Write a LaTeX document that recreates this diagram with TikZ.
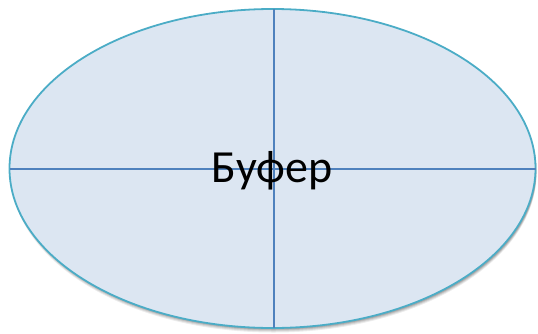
\documentclass[tikz,border=0pt]{standalone}
\usepackage{fontspec}
\setmainfont{Carlito}
\definecolor{fillc}{HTML}{DCE6F2}
\definecolor{edgec}{HTML}{4BACC6}
\definecolor{linec}{HTML}{4F81BD}
\begin{document}
\begin{tikzpicture}[x=1pt,y=-1pt,
  bufshape/.style={fill=fillc,draw=edgec,line width=1.8pt},
  divider/.style={draw=linec,line width=2pt}]
\useasboundingbox (0,0) rectangle (538,333);
% shadow
\foreach \o/\a in {4.5/0.07,3.5/0.09,2.5/0.11,1.5/0.13}{
  \fill[black,opacity=\a] (273.5,168.5+\o) ellipse [x radius=263, y radius=159.5];
}
\path[bufshape] (272.5,168.5) ellipse [x radius=263, y radius=159.5];
\coordinate (l) at (9.5,169);
\coordinate (r) at (535.5,169);
\coordinate (t) at (273.6,9);
\coordinate (b) at (273.6,328);
\draw[divider] (l) -- (r);
\draw[divider] (t) -- (b);
\node[font=\fontsize{46}{50}\selectfont, inner sep=0pt] (lbl) at (272,171) {Буфер};
\end{tikzpicture}
\end{document}
